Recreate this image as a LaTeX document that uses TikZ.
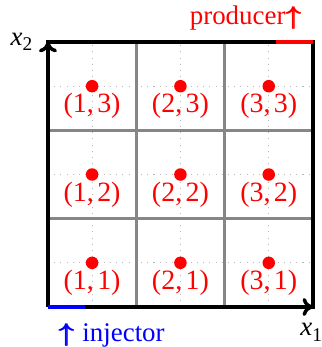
\documentclass[tikz,border=0pt]{standalone}
\usepackage{fontspec}
\setmainfont{Liberation Serif}
\usepackage{bm}
\usetikzlibrary{arrows.meta}
\newcommand{\uparr}{\makebox[0pt][l]{$\bm{\uparrow}$}\kern0.04em$\bm{\uparrow}$}
\begin{document}
\begin{tikzpicture}[x=1.2cm,y=1.2cm,
  gridline/.style={gray!95, line width=1.3pt},
  guide/.style={gray!55, dotted, line width=0.4pt},
  frame/.style={black, line width=1.35pt},
  celldot/.style={circle, fill=red, inner sep=0pt, minimum size=0.17cm},
  celllabel/.style={text=red, inner sep=0pt, font=\fontsize{10.8}{12}\selectfont},
  axlabel/.style={inner sep=0pt, font=\fontsize{10.4}{12}\selectfont},
]
\useasboundingbox (-0.543,-0.453) rectangle (3.102,3.476);
% dotted guides
\foreach \i in {0.5,1.5,2.5}{
  \draw[guide] (\i,0) -- (\i,3);
  \draw[guide] (0,\i) -- (3,\i);
}
% grid lines
\foreach \i in {1,2}{
  \draw[gridline] (\i,0) -- (\i,3);
  \draw[gridline] (0,\i) -- (3,\i);
}
\coordinate (O) at (0,0);
\coordinate (X) at (3,0);
\coordinate (Y) at (0,3);
\coordinate (C) at (3,3);
\coordinate (P) at (2.58,3);
\coordinate (I) at (0.42,0);
% frame
\draw[frame, line cap=rect] (Y) -- (C) -- (X);
\draw[frame, -{To[length=4pt,width=7pt]}] (O) -- (X);
\draw[frame, -{To[length=4pt,width=7pt]}] (O) -- (Y);
\draw[red, line width=1.35pt] (P) -- (C);
\draw[blue, line width=1.35pt] (O) -- (I);
% cells
\foreach \a in {1,2,3}{
  \foreach \b in {1,2,3}{
    \node[celldot] (d\a\b) at (\a-0.5,\b-0.5) {};
    \node[celllabel] (l\a\b) at (\a-0.5,\b-0.5-0.225) {(\a,\kern0.12em\b)};
  }
}
% axis labels
\node[axlabel] (x2) at (-0.3,3.0) {\textit{x}\raisebox{-0.45ex}{\fontsize{7.5}{9}\selectfont 2}};
\node[axlabel] (x1) at (2.98,-0.29) {\textit{x}\raisebox{-0.45ex}{\fontsize{7.5}{9}\selectfont 1}};
\node[axlabel, text=red, anchor=base east] (prod) at (2.876,3.204) {producer\uparr};
\node[axlabel, text=blue, anchor=base west] (inj) at (0.113,-0.393) {\uparr\kern0.3em injector};
\end{tikzpicture}
\end{document}
